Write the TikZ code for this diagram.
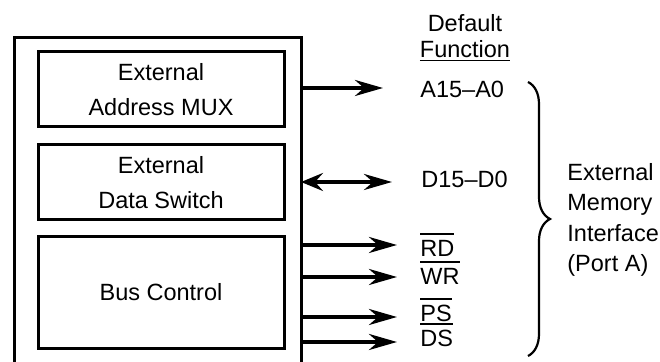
\documentclass[tikz,border=0pt]{standalone}
\usepackage{fontspec}
\setmainfont{Liberation Sans}
\usetikzlibrary{arrows.meta,positioning,calc,decorations.pathreplacing}
\newcommand{\ovl}[1]{\leavevmode\vbox{\hrule height 1pt\kern 3pt\hbox{#1}}}

\begin{document}
\begin{tikzpicture}[x=0.5pt,y=-0.5pt,
    blk/.style={draw, line width=1.5pt, minimum width=123pt, align=center,
      inner sep=0pt, font=\fontsize{11.75}{17.5}\selectfont},
    sig/.style={line width=1.8pt, -{Stealth[length=14pt,width=8pt,inset=4.5pt]}},
    pin/.style={anchor=base west, inner sep=0pt, font=\fontsize{11.75}{14}\selectfont},
    brace/.style={decorate, decoration={brace, amplitude=11pt}, line width=1.1pt}]
  \useasboundingbox (0,0) rectangle (660,362);
  % chip outline, open at the bottom
  \draw[line width=1.5pt] (14,362) |- (301,38) -- (301,362);
  \node[blk, minimum height=37.5pt] (mux) at (161,89.5) {External\\Address MUX};
  \node[blk, minimum height=37.5pt] (dsw) at (161,182.5) {External\\Data Switch};
  \node[blk, minimum height=56pt] (busc) at (161,292.5) {Bus Control};
  % pins
  \coordinate (pA) at (301,88);
  \coordinate (pD) at (301,182);
  \coordinate (pRD) at (301,245);
  \coordinate (pWR) at (301,277);
  \coordinate (pPS) at (301,317);
  \coordinate (pDS) at (301,342);
  \node[pin] (tA) at (420,98) {A15–A0};
  \node[pin] (tD) at (421,188) {D15–D0};
  \node[pin] (tRD) at (420,257) {\ovl{RD}};
  \node[pin] (tWR) at (420,285) {\ovl{WR}};
  \node[pin] (tPS) at (420,322) {\ovl{PS}};
  \node[pin] (tDS) at (420,347) {\ovl{DS}};
  \draw[sig, shorten >=18.5pt] (pA) -- (pA -| tA.west);
  \draw[sig, {Stealth[length=11pt,width=9pt,inset=4pt]}-{Stealth[length=14pt,width=8pt,inset=4.5pt]},
    shorten >=14.5pt] (pD) -- (pD -| tD.west);
  \foreach \s in {RD,WR,PS,DS}
    \draw[sig, shorten >=11.5pt] (p\s) -- (p\s -| t\s.west);
  % heading and brace
  \node[align=center, inner sep=0pt, font=\fontsize{11.75}{13}\selectfont] (head) at (465,38)
    {Default\\\underline{Function}};
  \coordinate (brtop) at (528,82);
  \coordinate (brbot) at (528,356);
  \draw[brace] (brtop) -- (brbot);
  \node[anchor=west, align=left, inner sep=0pt, font=\fontsize{11.75}{15.3}\selectfont] (ext)
    at (567,220) {External\\Memory\\Interface\\(Port A)};
\end{tikzpicture}
\end{document}
